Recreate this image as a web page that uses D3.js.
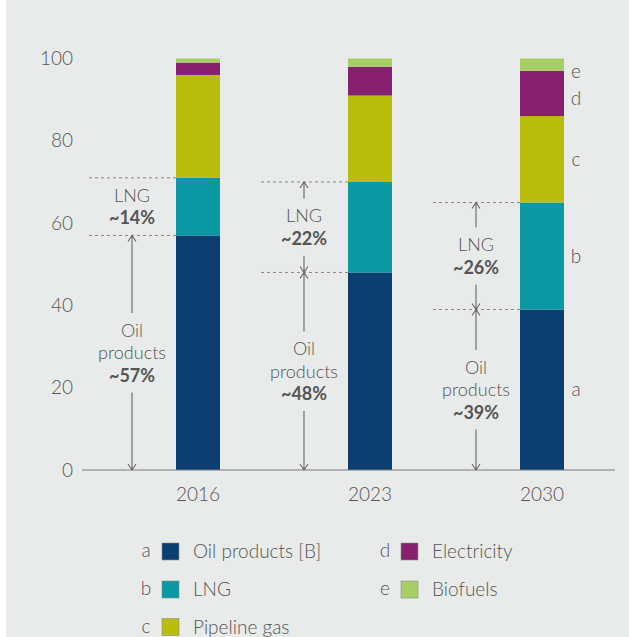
<!DOCTYPE html>
<html>
<head>
<meta charset="utf-8">
<script src="https://cdn.jsdelivr.net/npm/d3@7"></script>
<style>
  body { margin: 0; background: #fff; }
  svg text { font-family: Lato, "Open Sans", sans-serif; font-weight: 300; fill: #555; }
</style>
</head>
<body>
<script>
// data (share of total, %)
var years = ["2016", "2023", "2030"];
var oilProducts = [57, 48, 39];
var lng = [14, 22, 26];
var pipelineGas = [25, 21, 21];
var electricity = [3, 7, 11];
var biofuels = [1, 2, 3];
var yTicks = [0, 20, 40, 60, 80, 100];

var seriesKeys = ["a", "b", "c", "d", "e"];
var seriesNames = ["Oil products [B]", "LNG", "Pipeline gas", "Electricity", "Biofuels"];
var seriesColors = ["#0b3f72", "#0a99a2", "#b9bd0b", "#86206f", "#a8cf66"];

var width = 629, height = 637;

var rows = years.map(function (yr, i) {
  return { year: yr, a: oilProducts[i], b: lng[i], c: pipelineGas[i], d: electricity[i], e: biofuels[i] };
});

var svg = d3.select("body").append("svg")
  .attr("width", width)
  .attr("height", height);

// panel background with thin white strip on the left
svg.append("rect").attr("width", width).attr("height", height).attr("fill", "#fff");
svg.append("rect").attr("x", 6).attr("width", width - 6).attr("height", height).attr("fill", "#e8ebea");

var x = d3.scalePoint().domain(years).range([112, 628]).padding(0.5);
var y = d3.scaleLinear().domain([0, 100]).range([470, 58.5]);
var barW = 44;

var stack = d3.stack().keys(seriesKeys)(rows);
var color = d3.scaleOrdinal().domain(seriesKeys).range(seriesColors);

// y tick labels
svg.append("g").selectAll("text")
  .data(yTicks)
  .join("text")
  .attr("x", 73)
  .attr("y", function (d) { return y(d); })
  .attr("dy", "0.35em")
  .attr("text-anchor", "end")
  .style("font-size", "19px")
  .text(function (d) { return d; });

// bars
svg.append("g").selectAll("g")
  .data(stack)
  .join("g")
  .attr("fill", function (d) { return color(d.key); })
  .selectAll("rect")
  .data(function (d) { return d; })
  .join("rect")
  .attr("x", function (d) { return x(d.data.year) - barW / 2; })
  .attr("y", function (d) { return y(d[1]); })
  .attr("width", barW)
  .attr("height", function (d) { return y(d[0]) - y(d[1]); });

// baseline
svg.append("line")
  .attr("x1", 82).attr("x2", 615)
  .attr("y1", y(0)).attr("y2", y(0))
  .attr("stroke", "#7a7a7a").attr("stroke-width", 1.2);

// year labels
svg.append("g").selectAll("text")
  .data(years)
  .join("text")
  .attr("x", function (d) { return x(d); })
  .attr("y", 494)
  .attr("dy", "0.35em")
  .attr("text-anchor", "middle")
  .style("font-size", "19px")
  .text(function (d) { return d; });

// annotations: oil products and LNG spans
var lineH = 22.5;
var ann = svg.append("g");
rows.forEach(function (r, i) {
  var cx = x(r.year);
  var ax = cx - 66;
  var left = cx - barW / 2;
  var spans = [
    { lines: ["Oil", "products"], pct: "~" + r.a + "%", from: 0, to: r.a, arrows: true },
    { lines: ["LNG"], pct: "~" + r.b + "%", from: r.a, to: r.a + r.b, arrows: i > 0 }
  ];

  // dashed guides at the top of oil and LNG
  [r.a, r.a + r.b].forEach(function (v) {
    ann.append("line")
      .attr("x1", left - 87).attr("x2", left)
      .attr("y1", y(v)).attr("y2", y(v))
      .attr("stroke", "#8a8a8a").attr("stroke-width", 1)
      .attr("stroke-dasharray", "3,3");
  });

  spans.forEach(function (s) {
    var all = s.lines.concat([s.pct]);
    var mid = (y(s.from) + y(s.to)) / 2;
    var top = mid - all.length * lineH / 2;
    all.forEach(function (t, k) {
      ann.append("text")
        .attr("x", ax)
        .attr("y", top + lineH * (k + 0.5))
        .attr("dy", "0.35em")
        .attr("text-anchor", "middle")
        .style("font-size", "18px")
        .style("font-weight", k === all.length - 1 ? 700 : 300)
        .text(t);
    });
    if (!s.arrows) return;
    var y0 = y(s.from), y1 = y(s.to);
    var gapTop = top - 6, gapBot = top + all.length * lineH + 6;
    var path = d3.path();
    path.moveTo(ax, y1); path.lineTo(ax, gapTop);
    path.moveTo(ax, gapBot); path.lineTo(ax, y0);
    // up arrowhead at top, down arrowhead at bottom
    path.moveTo(ax - 4, y1 + 6); path.lineTo(ax, y1); path.lineTo(ax + 4, y1 + 6);
    path.moveTo(ax - 4, y0 - 6); path.lineTo(ax, y0); path.lineTo(ax + 4, y0 - 6);
    ann.append("path")
      .attr("d", path.toString())
      .attr("fill", "none")
      .attr("stroke", "#666")
      .attr("stroke-width", 1.1);
  });
});

// segment letters beside the last bar
var last = rows[rows.length - 1];
var lastStack = stack.map(function (s) { return { key: s.key, y0: s[s.length - 1][0], y1: s[s.length - 1][1] }; });
var letterPos = [];
var prev = y(100) - 14;
lastStack.slice().reverse().forEach(function (s) {
  var c = Math.max((y(s.y0) + y(s.y1)) / 2, prev + 27);
  letterPos.push({ key: s.key, y: c });
  prev = c;
});
svg.append("g").selectAll("text")
  .data(letterPos)
  .join("text")
  .attr("x", x(last.year) + barW / 2 + 12)
  .attr("y", function (d) { return d.y; })
  .attr("dy", "0.35em")
  .attr("text-anchor", "middle")
  .style("font-size", "19px")
  .text(function (d) { return d.key; });

// legend
var legendCols = [146, 385];
var legendRows = [551.5, 589.5, 627];
var legend = svg.append("g").selectAll("g")
  .data(seriesKeys)
  .join("g")
  .attr("transform", function (d, i) {
    var col = i < 3 ? 0 : 1;
    var row = i < 3 ? i : i - 3;
    return "translate(" + legendCols[col] + "," + legendRows[row] + ")";
  });
legend.append("text")
  .attr("x", 0)
  .attr("dy", "0.3em")
  .attr("text-anchor", "middle")
  .style("font-size", "19px")
  .text(function (d) { return d; });
legend.append("rect")
  .attr("x", 16).attr("y", -8.5)
  .attr("width", 17).attr("height", 17)
  .attr("fill", function (d) { return color(d); })
  .attr("stroke", "#8a8a8a").attr("stroke-width", 0.6);
legend.append("text")
  .attr("x", 47)
  .attr("dy", "0.35em")
  .style("font-size", "19px")
  .text(function (d, i) { return seriesNames[i]; });
</script>
</body>
</html>
